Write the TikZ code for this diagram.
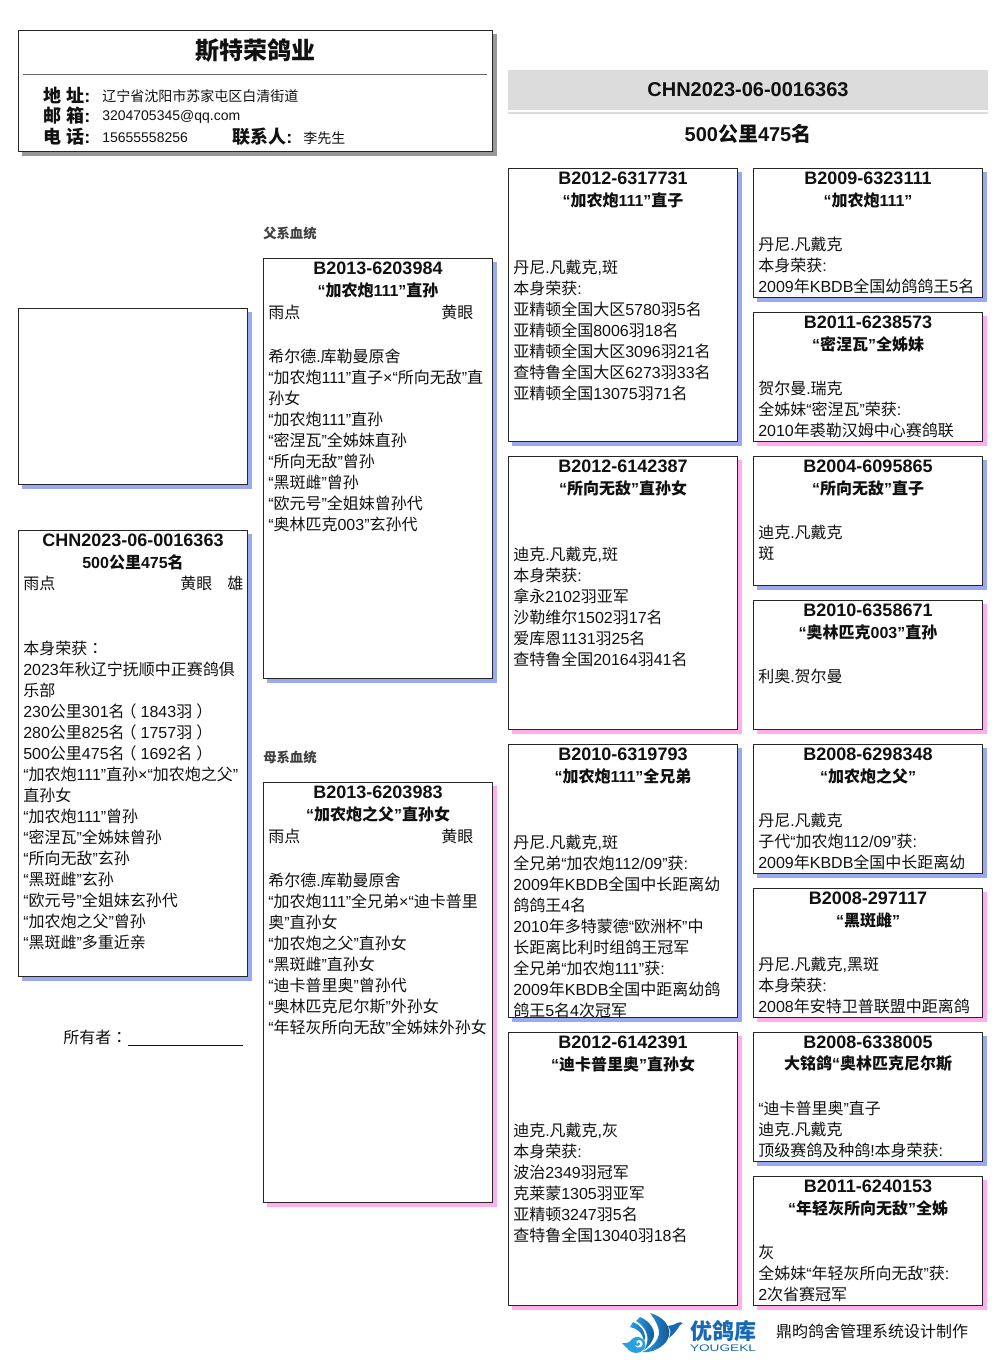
\documentclass[tikz,border=0pt]{standalone}
\usepackage{fontspec}
\usepackage{graphicx}
\setmainfont{Liberation Sans}
\newfontfamily\cjk[Kerning=Off]{Noto Sans CJK SC}
\newfontfamily\cjktc[Kerning=Off]{Noto Sans CJK TC}
\newXeTeXintercharclass\cjkcl
\makeatletter
\count@="4E00 \loop \XeTeXcharclass\count@=\cjkcl \ifnum\count@<"9FFF \advance\count@ by 1 \repeat
\count@="3000 \loop \XeTeXcharclass\count@=\cjkcl \ifnum\count@<"303F \advance\count@ by 1 \repeat
\count@="FF00 \loop \XeTeXcharclass\count@=\cjkcl \ifnum\count@<"FFEF \advance\count@ by 1 \repeat
\makeatother
\XeTeXinterchartoks 0 \cjkcl={\cjk}
\XeTeXinterchartoks 4095 \cjkcl={\cjk}
\XeTeXinterchartoks \cjkcl 0={\rmfamily}
\XeTeXinterchartoks \cjkcl 4095={\rmfamily}
\XeTeXinterchartokenstate=1
\newcommand{\ccolon}{{\XeTeXinterchartokenstate=0 \cjktc ：}}
\newcommand{\lparen}{{\XeTeXinterchartokenstate=0 \cjktc \kern-3pt（\kern3pt}}
\newcommand{\rparen}{{\XeTeXinterchartokenstate=0 \cjktc \kern3pt）\kern-3pt}}
\definecolor{shblue}{RGB}{155,170,240}
\definecolor{shpink}{RGB}{255,175,235}
\definecolor{shgrey}{RGB}{153,153,153}
\definecolor{band}{RGB}{220,220,220}
\definecolor{ink}{RGB}{17,17,17}
\definecolor{logoblue}{RGB}{24,104,180}
\definecolor{logolight}{RGB}{40,160,225}
\definecolor{logodark}{RGB}{14,70,140}
\tikzset{
  boxframe/.style={draw=black!85,line width=0.75pt,fill=white,inner sep=0pt,outer sep=0pt,anchor=north west},
  idtext/.style={font=\fontsize{13.5}{15.75}\selectfont\bfseries,text=ink,inner sep=0pt},
  titletext/.style={font=\fontsize{12}{15.75}\selectfont\bfseries,text=ink,inner sep=0pt},
  bodytext/.style={font=\fontsize{12}{15.75}\selectfont,text=ink,inner sep=0pt,anchor=north west,align=left},
  bandtext/.style={font=\fontsize{15}{18}\selectfont\bfseries,text=ink,inner sep=0pt},
  headlabel/.style={font=\fontsize{13.5}{15.75}\selectfont\bfseries,text=ink,inner sep=0pt,anchor=west},
  headvalue/.style={font=\fontsize{10.5}{15.75}\selectfont,text=ink,inner sep=0pt,anchor=west},
  linelabel/.style={font=\fontsize{10}{15.75}\selectfont\bfseries,text=black!75,inner sep=0pt,anchor=west},
}
% x1 y1 x2 y2 colour id title first-line-y lines
\newcommand{\pbox}[9]{%
  \fill[#5] (#1+4,#2+4) rectangle (#3+4,#4+4.5);
  \node[boxframe,minimum width={(#3-#1-1)*0.75pt},minimum height={(#4-#2)*0.75pt}] (#6) at (#1+0.5,#2+0.5) {};
  \begin{scope}
    \clip (#1+0.5,#2+0.5) rectangle (#3-0.5,#4+0.5);
    \node[idtext] (#6-id) at ({(#1+#3)/2},#2+10.5) {#6};
    \node[titletext] (#6-title) at ({(#1+#3)/2},#2+32) {#7};
    \node[bodytext] (#6-body) at (#1+5,#8-8.7) {\strut #9};
  \end{scope}
  \draw[black!85,line width=0.75pt] (#1+0.5,#2+0.5) rectangle (#3-0.5,#4+0.5);
}
\begin{document}
\begin{tikzpicture}[x=0.75pt,y=-0.75pt]
\useasboundingbox (0,0) rectangle (1006,1366);
\fill[white] (0,0) rectangle (1006,1366);
% head panel
\fill[shgrey] (22,34) rectangle (497,156);
\node[boxframe,minimum width={474*0.75pt},minimum height={121*0.75pt}] (head) at (18.5,30.5) {};
\node[font=\fontsize{18}{20}\selectfont\bfseries,text=ink,inner sep=0pt] (farm) at (255.5,51) {斯特荣鸽业};
\coordinate (ruleL) at (23,74.5);
\coordinate (ruleR) at (487,74.5);
\draw[black!60,line width=0.75pt] (ruleL) -- (ruleR);
\node[headlabel] (l1) at (43,95) {地 址:};
\node[headlabel] (l2) at (43,116) {邮 箱:};
\node[headlabel] (l3) at (43,137) {电 话:};
\node[headvalue] (v1) at (102,96) {辽宁省沈阳市苏家屯区白清街道};
\node[headvalue] (v2) at (102,117) {3204705345@qq.com};
\node[headvalue] (v3) at (102,138) {15655558256};
\node[headlabel] (l4) at (232,137) {联系人:};
\node[headvalue] (v4) at (303,138) {李先生};
% band
\fill[band] (508,70) rectangle (988,110);
\fill[band] (508,112) rectangle (988,114);
\node[bandtext] (ring) at (748,90) {CHN2023-06-0016363};
\node[bandtext] (race) at (748,134) {500公里475名};
% blank photo box
\fill[shblue] (22,312) rectangle (252,489);
\node[boxframe,minimum width={229*0.75pt},minimum height={176*0.75pt}] (photo) at (18.5,308.5) {};
% self
\pbox{18}{530}{248}{976}{shblue}{CHN2023-06-0016363}{500公里475名}{583}{%
雨点\hspace{93.75pt}黄眼\hspace{11.25pt}雄\\ \mbox{}\\ \mbox{}\\[1.5pt]
本身荣获\ccolon\\
2023年秋辽宁抚顺中正赛鸽俱\\
乐部\\
230公里301名\lparen 1843羽\rparen\\
280公里825名\lparen 1757羽\rparen\\
500公里475名\lparen 1692名\rparen\\
“加农炮111”直孙×“加农炮之父”\\
直孙女\\
“加农炮111”曾孙\\
“密涅瓦”全姊妹曾孙\\
“所向无敌”玄孙\\
“黑斑雌”玄孙\\
“欧元号”全姐妹玄孙代\\
“加农炮之父”曾孙\\
“黑斑雌”多重近亲}
\node[font=\fontsize{12}{15.75}\selectfont,text=ink,inner sep=0pt,anchor=base west] (owner) at (63,1043) {所有者\ccolon\hspace{0.75pt}\rule[-2.25pt]{86.25pt}{0.75pt}};
% parents
\node[linelabel] (fatherline) at (263,233) {父系血统};
\pbox{263}{258}{493}{678}{shblue}{B2013-6203984}{“加农炮111”直孙}{312}{%
\makebox[153.75pt][l]{雨点\hfill 黄眼}\\ \mbox{}\\[1.5pt]
希尔德.库勒曼原舍\\
“加农炮111”直子×“所向无敌”直\\
孙女\\
“加农炮111”直孙\\
“密涅瓦”全姊妹直孙\\
“所向无敌”曾孙\\
“黑斑雌”曾孙\\
“欧元号”全姐妹曾孙代\\
“奥林匹克003”玄孙代}
\node[linelabel] (motherline) at (263,757) {母系血统};
\pbox{263}{782}{493}{1202}{shpink}{B2013-6203983}{“加农炮之父”直孙女}{836}{%
\makebox[153.75pt][l]{雨点\hfill 黄眼}\\ \mbox{}\\[1.5pt]
希尔德.库勒曼原舍\\
“加农炮111”全兄弟×“迪卡普里\\
奥”直孙女\\
“加农炮之父”直孙女\\
“黑斑雌”直孙女\\
“迪卡普里奥”曾孙代\\
“奥林匹克尼尔斯”外孙女\\
“年轻灰所向无敌”全姊妹外孙女}
% grandparents
\pbox{508}{168}{738}{441}{shblue}{B2012-6317731}{“加农炮111”直子}{267}{%
丹尼.凡戴克,斑\\
本身荣获:\\
亚精顿全国大区5780羽5名\\
亚精顿全国8006羽18名\\
亚精顿全国大区3096羽21名\\
查特鲁全国大区6273羽33名\\
亚精顿全国13075羽71名}
\pbox{508}{456}{738}{729}{shpink}{B2012-6142387}{“所向无敌”直孙女}{554}{%
迪克.凡戴克,斑\\
本身荣获:\\
拿永2102羽亚军\\
沙勒维尔1502羽17名\\
爱库恩1131羽25名\\
查特鲁全国20164羽41名}
\pbox{508}{744}{738}{1017}{shblue}{B2010-6319793}{“加农炮111”全兄弟}{842}{%
丹尼.凡戴克,斑\\
全兄弟“加农炮112/09”获:\\
2009年KBDB全国中长距离幼\\
鸽鸽王4名\\
2010年多特蒙德“欧洲杯”中\\
长距离比利时组鸽王冠军\\
全兄弟“加农炮111”获:\\
2009年KBDB全国中距离幼鸽\\
鸽王5名4次冠军}
\pbox{508}{1032}{738}{1305}{shpink}{B2012-6142391}{“迪卡普里奥”直孙女}{1130}{%
迪克.凡戴克,灰\\
本身荣获:\\
波治2349羽冠军\\
克莱蒙1305羽亚军\\
亚精顿3247羽5名\\
查特鲁全国13040羽18名}
% great-grandparents
\pbox{753}{168}{983}{297}{shblue}{B2009-6323111}{“加农炮111”}{244}{%
丹尼.凡戴克\\
本身荣获:\\
2009年KBDB全国幼鸽鸽王5名}
\pbox{753}{312}{983}{441}{shpink}{B2011-6238573}{“密涅瓦”全姊妹}{388}{%
贺尔曼.瑞克\\
全姊妹“密涅瓦”荣获:\\
2010年裘勒汉姆中心赛鸽联}
\pbox{753}{456}{983}{585}{shblue}{B2004-6095865}{“所向无敌”直子}{532}{%
迪克.凡戴克\\
斑}
\pbox{753}{600}{983}{729}{shpink}{B2010-6358671}{“奥林匹克003”直孙}{676}{%
利奥.贺尔曼}
\pbox{753}{744}{983}{873}{shblue}{B2008-6298348}{“加农炮之父”}{820}{%
丹尼.凡戴克\\
子代“加农炮112/09”获:\\
2009年KBDB全国中长距离幼}
\pbox{753}{888}{983}{1017}{shpink}{B2008-297117}{“黑斑雌”}{964}{%
丹尼.凡戴克,黑斑\\
本身荣获:\\
2008年安特卫普联盟中距离鸽}
\pbox{753}{1032}{983}{1161}{shblue}{B2008-6338005}{大铭鸽“奥林匹克尼尔斯}{1108}{%
“迪卡普里奥”直子\\
迪克.凡戴克\\
顶级赛鸽及种鸽!本身荣获:}
\pbox{753}{1176}{983}{1305}{shpink}{B2011-6240153}{“年轻灰所向无敌”全姊}{1252}{%
灰\\
全姊妹“年轻灰所向无敌”获:\\
2次省赛冠军}
% logo
\shade[left color=logolight,right color=logodark] (650,1313) .. controls (668,1318) and (676,1334) .. (663,1345) .. controls (657,1350) and (650,1353) .. (642,1352) .. controls (654,1347) and (662,1337) .. (658,1327) .. controls (656,1321) and (653,1317) .. (650,1313) -- cycle;
\shade[left color=logolight,right color=logodark] (640,1317) .. controls (650,1321) and (658,1332) .. (652,1341) .. controls (650,1345) and (647,1348) .. (644,1350) .. controls (650,1341) and (649,1329) .. (636,1321) -- cycle;
\shade[left color=logolight,right color=logoblue] (633,1322) .. controls (642,1326) and (647,1333) .. (644,1342) .. controls (643,1332) and (636,1328) .. (630,1327) -- cycle;
\fill[logoblue] (668,1326) .. controls (672,1325) and (675,1325) .. (677,1323) .. controls (679,1322) and (681,1322) .. (683,1323) -- (680,1325) .. controls (677,1330) and (674,1334) .. (669,1338) .. controls (671,1333) and (671,1330) .. (668,1326) -- cycle;
\fill[logolight] (622,1343) .. controls (627,1344) and (630,1342) .. (632,1339) .. controls (636,1335) and (643,1337) .. (645,1342) .. controls (647,1348) and (642,1353) .. (636,1353) .. controls (630,1353) and (627,1348) .. (622,1343) -- cycle;
\fill[white] (639,1340) .. controls (642,1340) and (644,1344) .. (641,1347) .. controls (639,1348) and (636,1348) .. (635,1345) .. controls (636,1347) and (641,1346) .. (640,1343) .. controls (639,1341) and (637,1342) .. (637,1344) .. controls (635,1342) and (637,1340) .. (639,1340) -- cycle;
\node[font=\fontsize{16.5}{18}\selectfont\bfseries,text=logoblue,inner sep=0pt] (brand) at (723,1331) {优鸽库};
\node[text=logoblue,inner sep=0pt] (brandlatin) at (723,1348) {\resizebox{49.5pt}{5pt}{YOUGEKL}};
\node[font=\fontsize{12}{15.75}\selectfont,text=ink,inner sep=0pt] (credit) at (872,1331) {鼎昀鸽舍管理系统设计制作};
\end{tikzpicture}
\end{document}
